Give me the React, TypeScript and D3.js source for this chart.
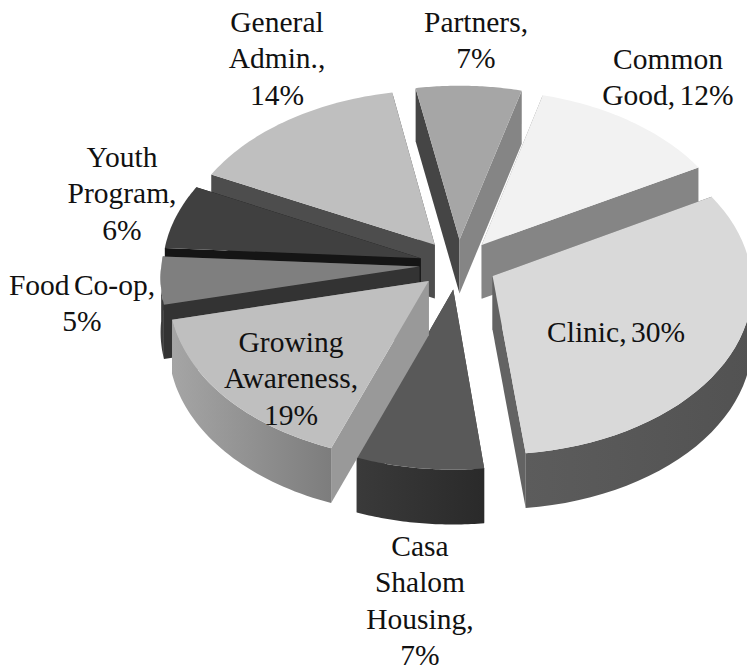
import React from "react";
import * as d3 from "d3";

const categories = ["Common Good", "Clinic", "Casa Shalom Housing", "Growing Awareness", "Food Co-op", "Youth Program", "General Admin.", "Partners"];
// Percentages printed on the labels.
const labelPercents = [12, 30, 7, 19, 5, 6, 14, 7];
// Sweep of each slice, in degrees of the projected circle.
const drawnSweeps = [46, 112.5, 27, 56.5, 16.5, 22.5, 53.5, 25.5];
const topColors = ["#f2f2f2", "#d9d9d9", "#595959", "#bfbfbf", "#7f7f7f", "#404040", "#bfbfbf", "#a6a6a6"];
const startWallColors = ["#858585", "#636363", "#3a3a3a", "#999999", "#333333", "#151515", "#4d4d4d", "#454545"];
const endWallColors = ["#858585", "#636363", "#3a3a3a", "#8a8a8a", "#333333", "#151515", "#4d4d4d", "#858585"];
const outerWallStops = [
  ["#858585", "#858585"], ["#5c5c5c", "#525252"], ["#3a3a3a", "#2a2a2a"], ["#a5a5a5", "#7d7d7d"],
  ["#404040", "#3a3a3a"], ["#151515", "#151515"], ["#4d4d4d", "#4d4d4d"], ["#858585", "#454545"],
];
const drawOrder = [6, 5, 4, 7, 0, 1, 2, 3];
const labelLines = [
  ["Common", "Good, 12%"], ["Clinic, 30%"], ["Casa", "Shalom", "Housing,", "7%"], ["Growing", "Awareness,", "19%"],
  ["Food Co-op,", "5%"], ["Youth", "Program,", "6%"], ["General", "Admin.,", "14%"], ["Partners,", "7%"],
];
const labelAnchors: [number, number][] = [
  [668, 69], [616, 342], [420, 556], [291, 352], [82, 295], [122, 167], [277, 32], [476, 32],
];

const CX = 458, CY = 264.5, RX = 258, RY = 167, PERSP = 0.06, EXPLODE = 0.15, DEPTH = 54;
const startDeg = 15;

function project(u: number, v: number, z: number): [number, number] {
  const s = 1 + PERSP * v;
  return [CX + RX * u * s, CY + RY * v * s + z * (DEPTH * (1 + 0.015 * v))];
}

export default function App() {
  const pie = d3.pie<number>().sort(null).value((d) => d)
    .startAngle((startDeg * Math.PI) / 180).endAngle(((startDeg + 360) * Math.PI) / 180);
  const arcs = pie(drawnSweeps);
  const line = d3.line();

  const slices = arcs.map((a, i) => {
    const mid = (a.startAngle + a.endAngle) / 2;
    const ox = EXPLODE * Math.sin(mid), oy = -EXPLODE * Math.cos(mid);
    const angles = d3.range(0, 41).map((k) => a.startAngle + ((a.endAngle - a.startAngle) * k) / 40);
    const rimPoint = (t: number, z: number) => project(ox + Math.sin(t), oy - Math.cos(t), z);
    const apex = (z: number) => project(ox, oy, z);
    const topRim = angles.map((t) => rimPoint(t, 0));
    const corner = (t: number, z: number) => rimPoint(t, z);
    const startWall = { d: line([apex(0), corner(a.startAngle, 0), corner(a.startAngle, 1), apex(1)])! + "Z", fill: startWallColors[i], y: topRim[0][1] };
    const endWall = { d: line([apex(0), corner(a.endAngle, 0), corner(a.endAngle, 1), apex(1)])! + "Z", fill: endWallColors[i], y: topRim[40][1] };
    // The curved outer wall only exists on the half of the rim that faces the viewer.
    const norm = (t: number) => ((t % (2 * Math.PI)) + 2 * Math.PI) % (2 * Math.PI);
    const front = angles.filter((t) => norm(t) >= Math.PI / 2 && norm(t) <= (3 * Math.PI) / 2);
    const outer = front.length > 1
      ? line([...front.map((t) => rimPoint(t, 0)), ...front.slice().reverse().map((t) => rimPoint(t, 1))])! + "Z"
      : null;
    return {
      i,
      top: line([apex(0), ...topRim])! + "Z",
      walls: [startWall, endWall].sort((p, q) => p.y - q.y),
      outer,
    };
  });

  return (
    <svg width={747} height={667} style={{ position: "absolute", left: 0, top: 0, background: "#fff" }}>
      <defs>
        {outerWallStops.map((s, i) => (
          <linearGradient key={i} id={`w${i}`} x1="0" x2="1" y1="0" y2="0">
            <stop offset="0" stopColor={s[0]} />
            <stop offset="1" stopColor={s[1]} />
          </linearGradient>
        ))}
      </defs>
      {drawOrder.map((i) => {
        const s = slices[i];
        return (
          <g key={categories[i]} data-percent={labelPercents[i]}>
            {s.walls.map((w, k) => <path key={k} d={w.d} fill={w.fill} />)}
            {s.outer && <path d={s.outer} fill={`url(#w${i})`} />}
            <path d={s.top} fill={topColors[i]} />
          </g>
        );
      })}
      {labelLines.map((lines, i) => (
        <text key={i} textAnchor="middle" fontFamily="'Liberation Serif', serif" fontSize={29.5} wordSpacing={-3} fill="#111">
          {lines.map((l, k) => (
            <tspan key={k} x={labelAnchors[i][0]} y={labelAnchors[i][1] + k * 36.3}>{l}</tspan>
          ))}
        </text>
      ))}
    </svg>
  );
}
